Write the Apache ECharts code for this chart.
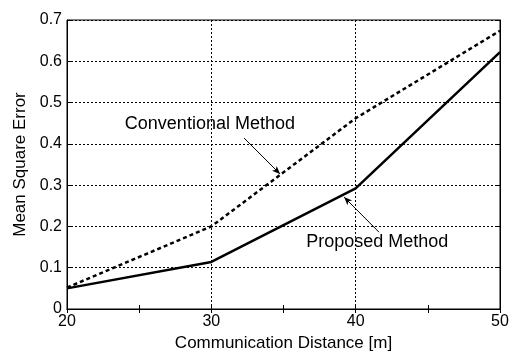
<!DOCTYPE html>
<html><head><meta charset="utf-8">
<script src="https://cdn.jsdelivr.net/npm/echarts@6/dist/echarts.min.js"></script>
<style>html,body{margin:0;padding:0;background:#fff}#c{width:514px;height:352px}</style>
</head><body><div id="c"></div>
<script>
const distances = [20, 30, 40, 50];
const proposed = [0.05, 0.114, 0.292, 0.622];
const conventional = [0.052, 0.200, 0.462, 0.674];
const labelConventional = 'Conventional Method';
const labelProposed = 'Proposed Method';
const xName = 'Communication Distance [m]';
const yName = 'Mean Square Error';
// annotation anchors in data coordinates
const convText = [29.9, 0.448];
const convArrow = [[32.27, 0.414], [34.76, 0.327]];
const propText = [41.5, 0.162];
const propArrow = [[41.62, 0.186], [39.2, 0.271]];

const F = 'Liberation Sans, Arial, Helvetica, sans-serif';
const chart = echarts.init(document.getElementById('c'), null, {renderer: 'canvas'});
const arrowLine = (pts) => ({
  silent: true, symbol: ['none', 'arrow'], symbolSize: [5, 8],
  lineStyle: {color: '#000', width: 1, type: 'solid'}, label: {show: false},
  data: [[{coord: pts[0]}, {coord: pts[1]}]]
});
const opt = {
  animation: false,
  backgroundColor: '#fff',
  grid: {left: 67, right: 14, top: 20, bottom: 43, containLabel: false, outerBoundsMode: 'none',
    show: true, borderColor: '#000', borderWidth: 1, backgroundColor: 'transparent'},
  xAxis: [{
    type: 'value', min: 20, max: 50, interval: 10,
    name: xName, nameLocation: 'middle', nameGap: 19,
    nameTextStyle: {fontFamily: F, fontSize: 17, color: '#000'},
    axisLine: {show: true, lineStyle: {color: '#000', width: 1}},
    axisTick: {show: true, inside: true, length: 4, lineStyle: {color: '#000'}},
    minorTick: {show: true, splitNumber: 2, length: 4, lineStyle: {color: '#000'}},
    axisLabel: {fontFamily: F, fontSize: 16, color: '#000', margin: 5},
    splitLine: {show: true, lineStyle: {color: '#000', type: [2, 2], width: 1}}
  }, {
    type: 'value', position: 'top', min: 20, max: 50, interval: 10,
    axisLine: {show: true, lineStyle: {color: '#000'}},
    axisTick: {show: true, inside: true, length: 4, lineStyle: {color: '#000'}},
    minorTick: {show: true, splitNumber: 2, length: 4, lineStyle: {color: '#000'}},
    axisLabel: {show: false}, splitLine: {show: false}
  }],
  yAxis: [{
    type: 'value', min: 0, max: 0.7, interval: 0.1,
    name: yName, nameLocation: 'middle', nameGap: 38,
    nameTextStyle: {fontFamily: F, fontSize: 17, color: '#000'},
    axisLine: {show: true, lineStyle: {color: '#000', width: 1}},
    axisTick: {show: true, inside: true, length: 4, lineStyle: {color: '#000'}},
    axisLabel: {fontFamily: F, fontSize: 16, color: '#000', margin: 5,
      formatter: v => v === 0 ? '0' : v.toFixed(1)},
    splitLine: {show: true, lineStyle: {color: '#000', type: [2, 2], width: 1}}
  }, {
    type: 'value', position: 'right', min: 0, max: 0.7, interval: 0.1,
    axisLine: {show: true, lineStyle: {color: '#000'}},
    axisTick: {show: true, inside: true, length: 4, lineStyle: {color: '#000'}},
    axisLabel: {show: false}, splitLine: {show: false}
  }],
  series: [{
    name: labelConventional, type: 'line', symbol: 'none',
    data: distances.map((d, i) => [d, conventional[i]]),
    lineStyle: {color: '#000', width: 2.5, type: [4, 3]},
    markLine: arrowLine(convArrow), z: 3
  }, {
    name: labelProposed, type: 'line', symbol: 'none',
    data: distances.map((d, i) => [d, proposed[i]]),
    lineStyle: {color: '#000', width: 2.5, type: 'solid'},
    markLine: arrowLine(propArrow), z: 4
  }]
};
chart.setOption(opt);
const p1 = chart.convertToPixel({gridIndex: 0}, convText);
const p2 = chart.convertToPixel({gridIndex: 0}, propText);
chart.setOption({graphic: [
  {type: 'text', x: p1[0], y: p1[1], style: {text: labelConventional, fontFamily: F, fontSize: 18, fill: '#000', align: 'center', verticalAlign: 'middle'}, z: 10},
  {type: 'text', x: p2[0], y: p2[1], style: {text: labelProposed, fontFamily: F, fontSize: 18, fill: '#000', align: 'center', verticalAlign: 'middle'}, z: 10}
]});
</script></body></html>
